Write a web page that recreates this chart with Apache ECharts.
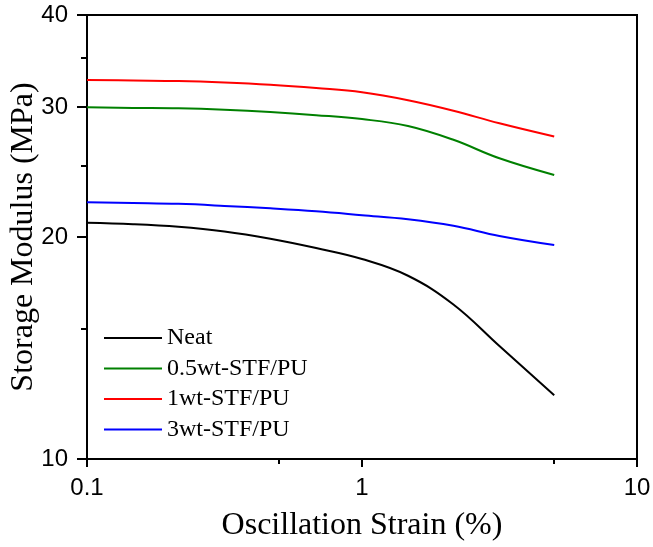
<!DOCTYPE html>
<html><head><meta charset="utf-8">
<script src="https://cdn.jsdelivr.net/npm/echarts@6/dist/echarts.min.js"></script>
<style>html,body{margin:0;padding:0;background:#fff}#c{width:653px;height:547px}</style>
</head><body><div id="c"></div>
<script>
// Oscillation strain (%)
const strain = [0.1, 0.147, 0.215, 0.316, 0.464, 0.681, 1, 1.47, 2.15, 3.16, 5];
// Storage modulus (MPa)
const neat   = [20.91, 20.82, 20.65, 20.35, 19.89, 19.32, 18.67, 17.72, 16.20, 14.23, 12.20];
const stf05  = [29.98, 29.93, 29.89, 29.76, 29.55, 29.26, 28.90, 28.28, 27.09, 25.57, 24.27];
const stf1   = [32.65, 32.60, 32.55, 32.40, 32.17, 31.84, 31.43, 30.66, 29.67, 28.52, 27.37];
const stf3   = [22.29, 22.24, 22.18, 22.04, 21.87, 21.67, 21.41, 21.14, 20.71, 20.06, 19.50];
const seriesNames = ['Neat', '0.5wt-STF/PU', '1wt-STF/PU', '3wt-STF/PU'];
const xMajorTicks = [0.1, 1, 10];
const xMinorTicks = [0.5, 5];
const yMajorTicks = [10, 20, 30, 40];
const yMinorTicks = [15, 25, 35];

const colors = ['#000000', '#008000', '#ff0000', '#0000ff'];
const values = [neat, stf05, stf1, stf3];
const sans = 'Liberation Sans';
const serif = 'Liberation Serif';

const chart = echarts.init(document.getElementById('c'), null, {renderer: 'canvas'});
const lineAxis = {lineStyle: {color: '#000', width: 2}};
chart.setOption({
  animation: false,
  backgroundColor: '#fff',
  grid: {left: 87, right: 16, top: 15, bottom: 88, show: true, borderColor: '#000', borderWidth: 2,
         containLabel: false, outerBoundsMode: 'none'},
  legend: {
    orient: 'vertical', left: 104, top: 326, padding: 0, icon: 'rect', itemWidth: 58, itemHeight: 2, itemGap: 6.5,
    textStyle: {fontFamily: serif, fontSize: 24, color: '#000', lineHeight: 24},
    data: seriesNames
  },
  xAxis: [{
    type: 'log', min: 0.1, max: 10, logBase: 10,
    name: 'Oscillation Strain (%)', nameLocation: 'middle', nameGap: 51, nameMoveOverlap: false,
    nameTextStyle: {fontFamily: serif, fontSize: 32, color: '#000'},
    axisLine: lineAxis,
    axisTick: {show: true, inside: false, length: 8, lineStyle: {color: '#000', width: 2}, customValues: xMajorTicks},
    axisLabel: {fontFamily: sans, fontSize: 24, color: '#000', margin: 17, customValues: xMajorTicks, formatter: v => String(v)},
    splitLine: {show: false}, minorTick: {show: false}
  }, {
    type: 'log', min: 0.1, max: 10, position: 'bottom',
    axisLine: {show: false},
    axisTick: {show: true, length: 5, lineStyle: {color: '#000', width: 2}, customValues: xMinorTicks},
    axisLabel: {show: false}, splitLine: {show: false}
  }],
  yAxis: [{
    type: 'log', min: 10, max: 40, logBase: 10,
    name: 'Storage Modulus (MPa)', nameLocation: 'middle', nameGap: 47, nameRotate: 90, nameMoveOverlap: false,
    nameTextStyle: {fontFamily: serif, fontSize: 32, color: '#000'},
    axisLine: lineAxis,
    axisTick: {show: true, length: 10, lineStyle: {color: '#000', width: 2}, customValues: yMajorTicks},
    axisLabel: {fontFamily: sans, fontSize: 24, color: '#000', margin: 19, customValues: yMajorTicks, formatter: v => String(v)},
    splitLine: {show: false}
  }, {
    type: 'log', min: 10, max: 40, position: 'left',
    axisLine: {show: false},
    axisTick: {show: true, length: 6, lineStyle: {color: '#000', width: 2}, customValues: yMinorTicks},
    axisLabel: {show: false}, splitLine: {show: false}
  }],
  series: seriesNames.map((name, k) => ({
    name, type: 'line', xAxisIndex: 0, yAxisIndex: 0,
    data: strain.map((x, i) => [x, values[k][i]]),
    symbol: 'none', smooth: 0.4,
    lineStyle: {color: colors[k], width: 2}, itemStyle: {color: colors[k]}
  }))
});
</script>
</body></html>
